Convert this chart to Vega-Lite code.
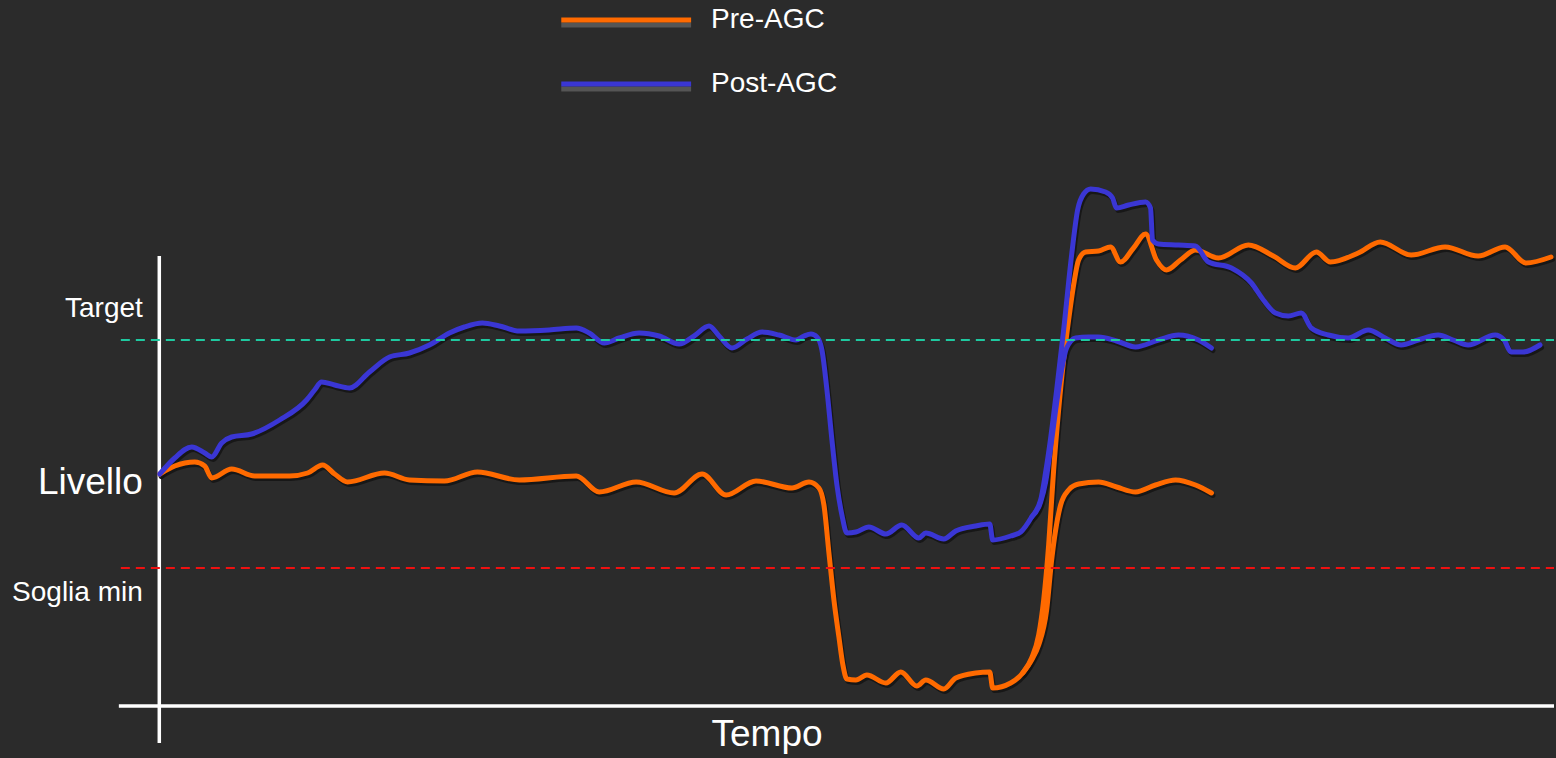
{
  "$schema": "https://vega.github.io/schema/vega-lite/v6.json",
  "width": 1556,
  "height": 758,
  "autosize": {"type": "fit", "contains": "padding"},
  "padding": 0,
  "background": "#2b2b2b",
  "config": {"view": {"stroke": null}, "font": "Liberation Sans"},
  "datasets": {
    "signals": [
      {"signal":"Pre-AGC","path":"pre-1","t":160,"level":284},
      {"signal":"Pre-AGC","path":"pre-1","t":175,"level":292},
      {"signal":"Pre-AGC","path":"pre-1","t":195,"level":296},
      {"signal":"Pre-AGC","path":"pre-1","t":205,"level":292},
      {"signal":"Pre-AGC","path":"pre-1","t":212,"level":280},
      {"signal":"Pre-AGC","path":"pre-1","t":232,"level":289},
      {"signal":"Pre-AGC","path":"pre-1","t":255,"level":282},
      {"signal":"Pre-AGC","path":"pre-1","t":290,"level":282},
      {"signal":"Pre-AGC","path":"pre-1","t":308,"level":285},
      {"signal":"Pre-AGC","path":"pre-1","t":323,"level":293},
      {"signal":"Pre-AGC","path":"pre-1","t":335,"level":284},
      {"signal":"Pre-AGC","path":"pre-1","t":348,"level":276},
      {"signal":"Pre-AGC","path":"pre-1","t":385,"level":285},
      {"signal":"Pre-AGC","path":"pre-1","t":410,"level":278},
      {"signal":"Pre-AGC","path":"pre-1","t":445,"level":277},
      {"signal":"Pre-AGC","path":"pre-1","t":478,"level":286},
      {"signal":"Pre-AGC","path":"pre-1","t":520,"level":278},
      {"signal":"Pre-AGC","path":"pre-1","t":577,"level":282},
      {"signal":"Pre-AGC","path":"pre-1","t":600,"level":266},
      {"signal":"Pre-AGC","path":"pre-1","t":637,"level":276},
      {"signal":"Pre-AGC","path":"pre-1","t":675,"level":265},
      {"signal":"Pre-AGC","path":"pre-1","t":703,"level":284},
      {"signal":"Pre-AGC","path":"pre-1","t":727,"level":263},
      {"signal":"Pre-AGC","path":"pre-1","t":757,"level":277},
      {"signal":"Pre-AGC","path":"pre-1","t":793,"level":270},
      {"signal":"Pre-AGC","path":"pre-1","t":810,"level":276},
      {"signal":"Pre-AGC","path":"pre-1","t":820,"level":270},
      {"signal":"Pre-AGC","path":"pre-1","t":825,"level":253},
      {"signal":"Pre-AGC","path":"pre-1","t":830,"level":205},
      {"signal":"Pre-AGC","path":"pre-1","t":835,"level":158},
      {"signal":"Pre-AGC","path":"pre-1","t":840,"level":121},
      {"signal":"Pre-AGC","path":"pre-1","t":844,"level":93},
      {"signal":"Pre-AGC","path":"pre-1","t":848,"level":79},
      {"signal":"Pre-AGC","path":"pre-1","t":857,"level":78},
      {"signal":"Pre-AGC","path":"pre-1","t":868,"level":83},
      {"signal":"Pre-AGC","path":"pre-1","t":887,"level":75},
      {"signal":"Pre-AGC","path":"pre-1","t":902,"level":86},
      {"signal":"Pre-AGC","path":"pre-1","t":918,"level":72},
      {"signal":"Pre-AGC","path":"pre-1","t":927,"level":78},
      {"signal":"Pre-AGC","path":"pre-1","t":945,"level":69},
      {"signal":"Pre-AGC","path":"pre-1","t":957,"level":80},
      {"signal":"Pre-AGC","path":"pre-1","t":977,"level":85},
      {"signal":"Pre-AGC","path":"pre-1","t":991,"level":86},
      {"signal":"Pre-AGC","path":"pre-1","t":994,"level":70},
      {"signal":"Pre-AGC","path":"pre-1","t":1012,"level":75},
      {"signal":"Pre-AGC","path":"pre-1","t":1024,"level":85},
      {"signal":"Pre-AGC","path":"pre-1","t":1033,"level":100},
      {"signal":"Pre-AGC","path":"pre-1","t":1040,"level":123},
      {"signal":"Pre-AGC","path":"pre-1","t":1045,"level":158},
      {"signal":"Pre-AGC","path":"pre-1","t":1050,"level":213},
      {"signal":"Pre-AGC","path":"pre-1","t":1055,"level":288},
      {"signal":"Pre-AGC","path":"pre-1","t":1060,"level":348},
      {"signal":"Pre-AGC","path":"pre-1","t":1065,"level":398},
      {"signal":"Pre-AGC","path":"pre-1","t":1070,"level":438},
      {"signal":"Pre-AGC","path":"pre-1","t":1075,"level":473},
      {"signal":"Pre-AGC","path":"pre-1","t":1080,"level":498},
      {"signal":"Pre-AGC","path":"pre-1","t":1087,"level":506},
      {"signal":"Pre-AGC","path":"pre-1","t":1100,"level":507},
      {"signal":"Pre-AGC","path":"pre-1","t":1112,"level":511},
      {"signal":"Pre-AGC","path":"pre-1","t":1122,"level":496},
      {"signal":"Pre-AGC","path":"pre-1","t":1135,"level":510},
      {"signal":"Pre-AGC","path":"pre-1","t":1147,"level":524},
      {"signal":"Pre-AGC","path":"pre-1","t":1158,"level":498},
      {"signal":"Pre-AGC","path":"pre-1","t":1168,"level":488},
      {"signal":"Pre-AGC","path":"pre-1","t":1182,"level":498},
      {"signal":"Pre-AGC","path":"pre-1","t":1197,"level":508},
      {"signal":"Pre-AGC","path":"pre-1","t":1220,"level":500},
      {"signal":"Pre-AGC","path":"pre-1","t":1250,"level":513},
      {"signal":"Pre-AGC","path":"pre-1","t":1275,"level":502},
      {"signal":"Pre-AGC","path":"pre-1","t":1297,"level":490},
      {"signal":"Pre-AGC","path":"pre-1","t":1318,"level":506},
      {"signal":"Pre-AGC","path":"pre-1","t":1332,"level":496},
      {"signal":"Pre-AGC","path":"pre-1","t":1360,"level":505},
      {"signal":"Pre-AGC","path":"pre-1","t":1382,"level":516},
      {"signal":"Pre-AGC","path":"pre-1","t":1413,"level":503},
      {"signal":"Pre-AGC","path":"pre-1","t":1447,"level":511},
      {"signal":"Pre-AGC","path":"pre-1","t":1480,"level":502},
      {"signal":"Pre-AGC","path":"pre-1","t":1507,"level":511},
      {"signal":"Pre-AGC","path":"pre-1","t":1528,"level":495},
      {"signal":"Pre-AGC","path":"pre-1","t":1553,"level":501},

      {"signal":"Pre-AGC","path":"pre-2","t":1024,"level":85},
      {"signal":"Pre-AGC","path":"pre-2","t":1033,"level":98},
      {"signal":"Pre-AGC","path":"pre-2","t":1040,"level":113},
      {"signal":"Pre-AGC","path":"pre-2","t":1048,"level":148},
      {"signal":"Pre-AGC","path":"pre-2","t":1053,"level":198},
      {"signal":"Pre-AGC","path":"pre-2","t":1057,"level":228},
      {"signal":"Pre-AGC","path":"pre-2","t":1062,"level":253},
      {"signal":"Pre-AGC","path":"pre-2","t":1070,"level":268},
      {"signal":"Pre-AGC","path":"pre-2","t":1080,"level":274},
      {"signal":"Pre-AGC","path":"pre-2","t":1100,"level":276},
      {"signal":"Pre-AGC","path":"pre-2","t":1118,"level":271},
      {"signal":"Pre-AGC","path":"pre-2","t":1137,"level":266},
      {"signal":"Pre-AGC","path":"pre-2","t":1157,"level":273},
      {"signal":"Pre-AGC","path":"pre-2","t":1177,"level":278},
      {"signal":"Pre-AGC","path":"pre-2","t":1197,"level":273},
      {"signal":"Pre-AGC","path":"pre-2","t":1213,"level":265},

      {"signal":"Post-AGC","path":"post-1","t":160,"level":284},
      {"signal":"Post-AGC","path":"post-1","t":175,"level":300},
      {"signal":"Post-AGC","path":"post-1","t":192,"level":311},
      {"signal":"Post-AGC","path":"post-1","t":205,"level":305},
      {"signal":"Post-AGC","path":"post-1","t":212,"level":301},
      {"signal":"Post-AGC","path":"post-1","t":222,"level":315},
      {"signal":"Post-AGC","path":"post-1","t":232,"level":321},
      {"signal":"Post-AGC","path":"post-1","t":252,"level":324},
      {"signal":"Post-AGC","path":"post-1","t":280,"level":338},
      {"signal":"Post-AGC","path":"post-1","t":307,"level":358},
      {"signal":"Post-AGC","path":"post-1","t":315,"level":368},
      {"signal":"Post-AGC","path":"post-1","t":322,"level":376},
      {"signal":"Post-AGC","path":"post-1","t":335,"level":373},
      {"signal":"Post-AGC","path":"post-1","t":350,"level":370},
      {"signal":"Post-AGC","path":"post-1","t":370,"level":386},
      {"signal":"Post-AGC","path":"post-1","t":390,"level":401},
      {"signal":"Post-AGC","path":"post-1","t":410,"level":405},
      {"signal":"Post-AGC","path":"post-1","t":430,"level":413},
      {"signal":"Post-AGC","path":"post-1","t":450,"level":425},
      {"signal":"Post-AGC","path":"post-1","t":465,"level":431},
      {"signal":"Post-AGC","path":"post-1","t":483,"level":435},
      {"signal":"Post-AGC","path":"post-1","t":500,"level":432},
      {"signal":"Post-AGC","path":"post-1","t":520,"level":427},
      {"signal":"Post-AGC","path":"post-1","t":550,"level":428},
      {"signal":"Post-AGC","path":"post-1","t":577,"level":430},
      {"signal":"Post-AGC","path":"post-1","t":590,"level":425},
      {"signal":"Post-AGC","path":"post-1","t":605,"level":415},
      {"signal":"Post-AGC","path":"post-1","t":620,"level":420},
      {"signal":"Post-AGC","path":"post-1","t":640,"level":425},
      {"signal":"Post-AGC","path":"post-1","t":660,"level":422},
      {"signal":"Post-AGC","path":"post-1","t":680,"level":414},
      {"signal":"Post-AGC","path":"post-1","t":695,"level":422},
      {"signal":"Post-AGC","path":"post-1","t":710,"level":432},
      {"signal":"Post-AGC","path":"post-1","t":720,"level":422},
      {"signal":"Post-AGC","path":"post-1","t":733,"level":410},
      {"signal":"Post-AGC","path":"post-1","t":748,"level":419},
      {"signal":"Post-AGC","path":"post-1","t":763,"level":426},
      {"signal":"Post-AGC","path":"post-1","t":780,"level":423},
      {"signal":"Post-AGC","path":"post-1","t":797,"level":418},
      {"signal":"Post-AGC","path":"post-1","t":805,"level":422},
      {"signal":"Post-AGC","path":"post-1","t":812,"level":424},
      {"signal":"Post-AGC","path":"post-1","t":818,"level":421},
      {"signal":"Post-AGC","path":"post-1","t":823,"level":408},
      {"signal":"Post-AGC","path":"post-1","t":828,"level":368},
      {"signal":"Post-AGC","path":"post-1","t":833,"level":318},
      {"signal":"Post-AGC","path":"post-1","t":838,"level":273},
      {"signal":"Post-AGC","path":"post-1","t":843,"level":243},
      {"signal":"Post-AGC","path":"post-1","t":848,"level":225},
      {"signal":"Post-AGC","path":"post-1","t":857,"level":226},
      {"signal":"Post-AGC","path":"post-1","t":870,"level":231},
      {"signal":"Post-AGC","path":"post-1","t":887,"level":224},
      {"signal":"Post-AGC","path":"post-1","t":903,"level":233},
      {"signal":"Post-AGC","path":"post-1","t":920,"level":220},
      {"signal":"Post-AGC","path":"post-1","t":927,"level":225},
      {"signal":"Post-AGC","path":"post-1","t":945,"level":219},
      {"signal":"Post-AGC","path":"post-1","t":957,"level":227},
      {"signal":"Post-AGC","path":"post-1","t":977,"level":232},
      {"signal":"Post-AGC","path":"post-1","t":991,"level":234},
      {"signal":"Post-AGC","path":"post-1","t":994,"level":218},
      {"signal":"Post-AGC","path":"post-1","t":1012,"level":222},
      {"signal":"Post-AGC","path":"post-1","t":1022,"level":226},
      {"signal":"Post-AGC","path":"post-1","t":1033,"level":241},
      {"signal":"Post-AGC","path":"post-1","t":1042,"level":258},
      {"signal":"Post-AGC","path":"post-1","t":1047,"level":286},
      {"signal":"Post-AGC","path":"post-1","t":1052,"level":320},
      {"signal":"Post-AGC","path":"post-1","t":1058,"level":368},
      {"signal":"Post-AGC","path":"post-1","t":1065,"level":428},
      {"signal":"Post-AGC","path":"post-1","t":1073,"level":503},
      {"signal":"Post-AGC","path":"post-1","t":1079,"level":548},
      {"signal":"Post-AGC","path":"post-1","t":1085,"level":564},
      {"signal":"Post-AGC","path":"post-1","t":1092,"level":569},
      {"signal":"Post-AGC","path":"post-1","t":1107,"level":566},
      {"signal":"Post-AGC","path":"post-1","t":1114,"level":560},
      {"signal":"Post-AGC","path":"post-1","t":1118,"level":550},
      {"signal":"Post-AGC","path":"post-1","t":1130,"level":553},
      {"signal":"Post-AGC","path":"post-1","t":1147,"level":556},
      {"signal":"Post-AGC","path":"post-1","t":1152,"level":550},
      {"signal":"Post-AGC","path":"post-1","t":1154,"level":518},
      {"signal":"Post-AGC","path":"post-1","t":1160,"level":514},
      {"signal":"Post-AGC","path":"post-1","t":1180,"level":513},
      {"signal":"Post-AGC","path":"post-1","t":1197,"level":512},
      {"signal":"Post-AGC","path":"post-1","t":1210,"level":496},
      {"signal":"Post-AGC","path":"post-1","t":1233,"level":490},
      {"signal":"Post-AGC","path":"post-1","t":1253,"level":475},
      {"signal":"Post-AGC","path":"post-1","t":1265,"level":458},
      {"signal":"Post-AGC","path":"post-1","t":1277,"level":445},
      {"signal":"Post-AGC","path":"post-1","t":1290,"level":442},
      {"signal":"Post-AGC","path":"post-1","t":1303,"level":445},
      {"signal":"Post-AGC","path":"post-1","t":1313,"level":430},
      {"signal":"Post-AGC","path":"post-1","t":1330,"level":423},
      {"signal":"Post-AGC","path":"post-1","t":1350,"level":420},
      {"signal":"Post-AGC","path":"post-1","t":1370,"level":428},
      {"signal":"Post-AGC","path":"post-1","t":1387,"level":420},
      {"signal":"Post-AGC","path":"post-1","t":1403,"level":413},
      {"signal":"Post-AGC","path":"post-1","t":1420,"level":418},
      {"signal":"Post-AGC","path":"post-1","t":1440,"level":423},
      {"signal":"Post-AGC","path":"post-1","t":1455,"level":418},
      {"signal":"Post-AGC","path":"post-1","t":1470,"level":413},
      {"signal":"Post-AGC","path":"post-1","t":1497,"level":423},
      {"signal":"Post-AGC","path":"post-1","t":1506,"level":418},
      {"signal":"Post-AGC","path":"post-1","t":1513,"level":406},
      {"signal":"Post-AGC","path":"post-1","t":1525,"level":406},
      {"signal":"Post-AGC","path":"post-1","t":1542,"level":413},

      {"signal":"Post-AGC","path":"post-2","t":1033,"level":241},
      {"signal":"Post-AGC","path":"post-2","t":1042,"level":256},
      {"signal":"Post-AGC","path":"post-2","t":1047,"level":276},
      {"signal":"Post-AGC","path":"post-2","t":1052,"level":310},
      {"signal":"Post-AGC","path":"post-2","t":1057,"level":348},
      {"signal":"Post-AGC","path":"post-2","t":1063,"level":388},
      {"signal":"Post-AGC","path":"post-2","t":1068,"level":410},
      {"signal":"Post-AGC","path":"post-2","t":1077,"level":420},
      {"signal":"Post-AGC","path":"post-2","t":1090,"level":421},
      {"signal":"Post-AGC","path":"post-2","t":1100,"level":421},
      {"signal":"Post-AGC","path":"post-2","t":1118,"level":417},
      {"signal":"Post-AGC","path":"post-2","t":1137,"level":411},
      {"signal":"Post-AGC","path":"post-2","t":1160,"level":418},
      {"signal":"Post-AGC","path":"post-2","t":1180,"level":423},
      {"signal":"Post-AGC","path":"post-2","t":1200,"level":418},
      {"signal":"Post-AGC","path":"post-2","t":1213,"level":410}
    ],
    "refs": [
      {"name":"Target","level":418},
      {"name":"Soglia min","level":190}
    ],
    "legend": [
      {"signal":"Pre-AGC","level":738},
      {"signal":"Post-AGC","level":674}
    ]
  },
  "encoding": {
    "x": {"type":"quantitative","scale":{"domain":[0,1556],"nice":false,"zero":false},"axis":null},
    "y": {"type":"quantitative","scale":{"domain":[0,758],"nice":false,"zero":false},"axis":null}
  },
  "layer": [
    {
      "data": {"values": [{"axis":"Livello","t":159.5,"from":15,"to":502}]},
      "mark": {"type":"rule","color":"#ffffff","strokeWidth":3.5},
      "encoding": {
        "x": {"field":"t","type":"quantitative"},
        "y": {"field":"from","type":"quantitative"},
        "y2": {"field":"to"}
      }
    },
    {
      "data": {"values": [{"axis":"Tempo","level":52,"from":119,"to":1556}]},
      "mark": {"type":"rule","color":"#ffffff","strokeWidth":3.5},
      "encoding": {
        "y": {"field":"level","type":"quantitative"},
        "x": {"field":"from","type":"quantitative"},
        "x2": {"field":"to"}
      }
    },
    {
      "data": {"name":"signals"},
      "mark": {"type":"line","interpolate":"monotone","color":"#111111","strokeWidth":5,"opacity":0.75,"xOffset":1.5,"yOffset":2.5,"strokeCap":"round","strokeJoin":"round"},
      "encoding": {
        "x": {"field":"t","type":"quantitative"},
        "y": {"field":"level","type":"quantitative"},
        "detail": {"field":"path"},
        "order": {"field":"t","type":"quantitative"}
      }
    },
    {
      "data": {"name":"signals"},
      "mark": {"type":"line","interpolate":"monotone","strokeWidth":5,"strokeCap":"round","strokeJoin":"round"},
      "encoding": {
        "x": {"field":"t","type":"quantitative"},
        "y": {"field":"level","type":"quantitative"},
        "detail": {"field":"path"},
        "order": {"field":"t","type":"quantitative"},
        "color": {"field":"signal","type":"nominal","scale":{"domain":["Pre-AGC","Post-AGC"],"range":["#ff6a00","#3a36d4"]},"legend":null}
      }
    },
    {
      "data": {"name":"refs"},
      "transform": [{"filter":"datum.name === 'Target'"}],
      "mark": {"type":"rule","color":"#1fc9a0","strokeWidth":2,"strokeDash":[9,6]},
      "encoding": {
        "y": {"field":"level","type":"quantitative"},
        "x": {"datum":121},
        "x2": {"datum":1556}
      }
    },
    {
      "data": {"name":"refs"},
      "transform": [{"filter":"datum.name === 'Soglia min'"}],
      "mark": {"type":"rule","color":"#ee1111","strokeWidth":2,"strokeDash":[9,6]},
      "encoding": {
        "y": {"field":"level","type":"quantitative"},
        "x": {"datum":121},
        "x2": {"datum":1556}
      }
    },
    {
      "data": {"values":[{"label":"Target","level":449},{"label":"Soglia min","level":165}]},
      "mark": {"type":"text","align":"right","baseline":"middle","fontSize":28,"color":"#ffffff"},
      "encoding": {
        "x": {"datum":143},
        "y": {"field":"level","type":"quantitative"},
        "text": {"field":"label"}
      }
    },
    {
      "data": {"values":[{"label":"Livello","level":275}]},
      "mark": {"type":"text","align":"right","baseline":"middle","fontSize":37,"color":"#ffffff"},
      "encoding": {
        "x": {"datum":143},
        "y": {"field":"level","type":"quantitative"},
        "text": {"field":"label"}
      }
    },
    {
      "data": {"values":[{"label":"Tempo","t":768}]},
      "mark": {"type":"text","align":"center","baseline":"middle","fontSize":37,"color":"#ffffff"},
      "encoding": {
        "x": {"field":"t","type":"quantitative"},
        "y": {"datum":23},
        "text": {"field":"label"}
      }
    },
    {
      "data": {"name":"legend"},
      "mark": {"type":"rule","color":"#555555","strokeWidth":5,"yOffset":5},
      "encoding": {
        "y": {"field":"level","type":"quantitative"},
        "x": {"datum":562},
        "x2": {"datum":692}
      }
    },
    {
      "data": {"name":"legend"},
      "mark": {"type":"rule","strokeWidth":5},
      "encoding": {
        "y": {"field":"level","type":"quantitative"},
        "x": {"datum":562},
        "x2": {"datum":692},
        "color": {"field":"signal","type":"nominal","scale":{"domain":["Pre-AGC","Post-AGC"],"range":["#ff6a00","#3a36d4"]},"legend":null}
      }
    },
    {
      "data": {"name":"legend"},
      "mark": {"type":"text","align":"left","baseline":"middle","fontSize":28,"color":"#ffffff"},
      "encoding": {
        "y": {"field":"level","type":"quantitative"},
        "x": {"datum":712},
        "text": {"field":"signal"}
      }
    }
  ]
}
